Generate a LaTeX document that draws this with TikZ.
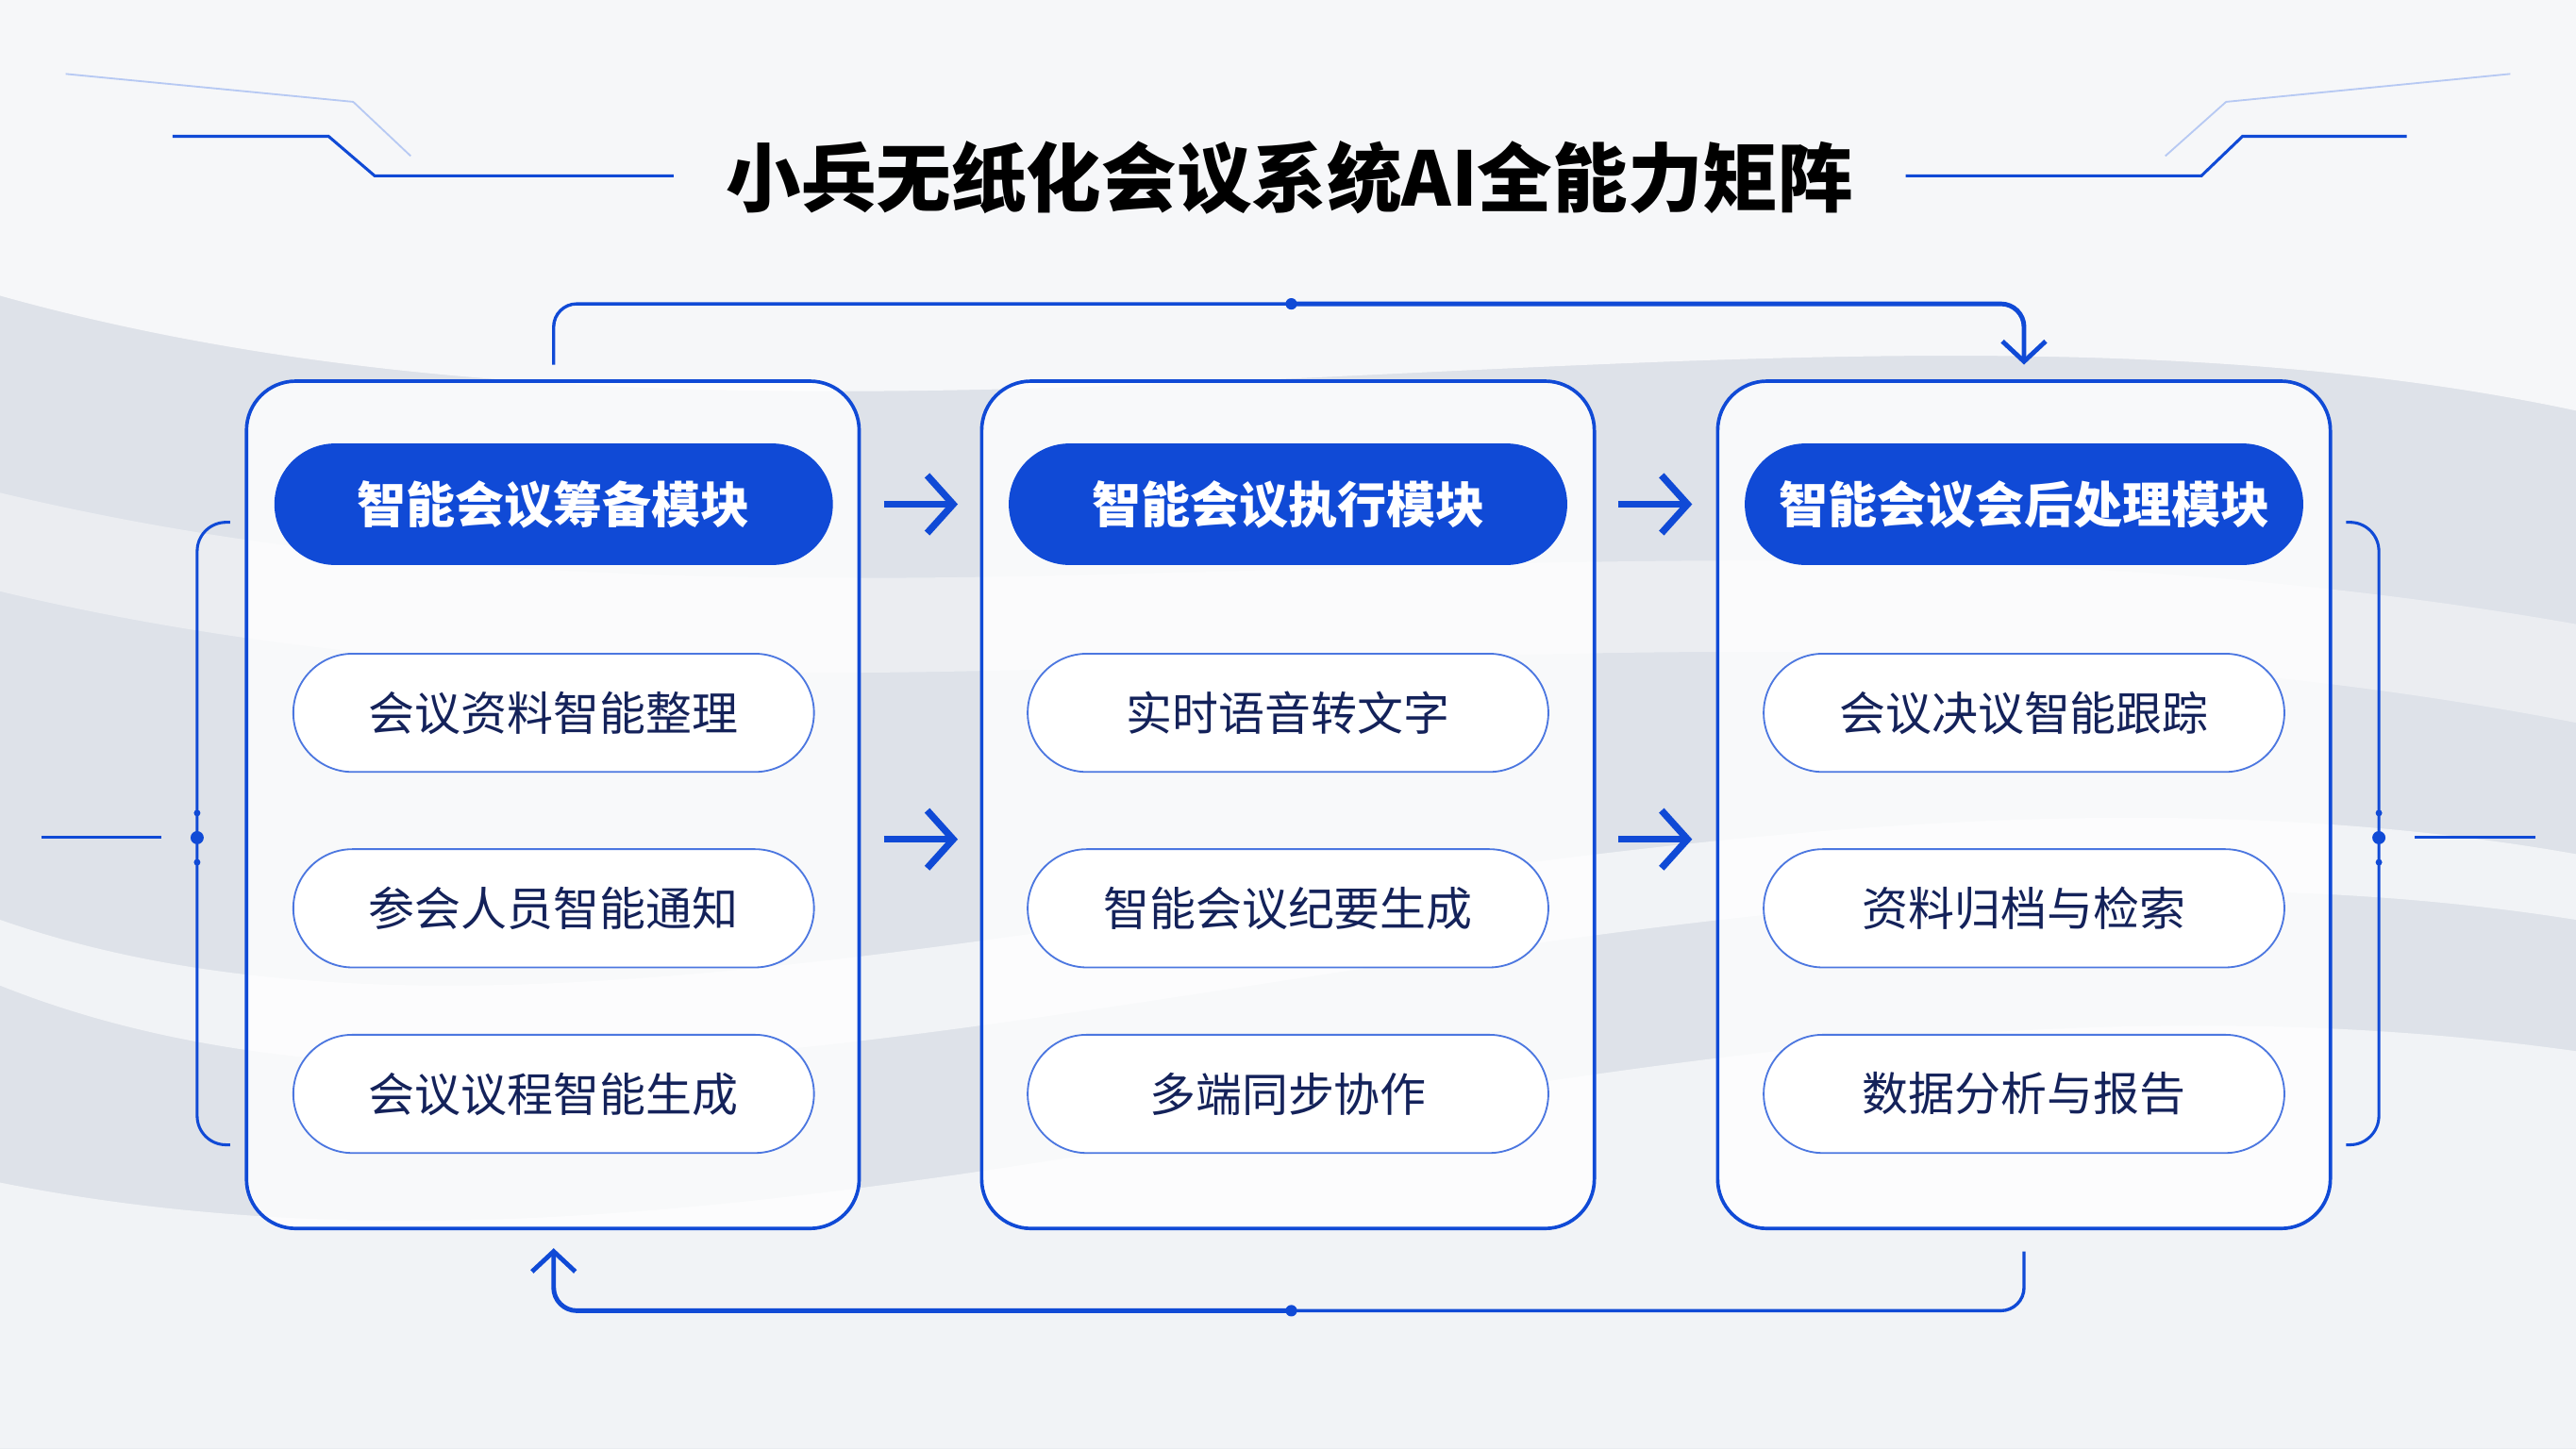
\documentclass[tikz,border=0pt]{standalone}
\usepackage{fontspec}
\setmainfont{Noto Sans CJK SC}
\usetikzlibrary{arrows.meta,positioning}
\definecolor{mainblue}{RGB}{16,74,214}
\definecolor{navy}{RGB}{20,34,90}
\definecolor{bgray}{RGB}{222,226,233}
\tikzset{
  column/.style={draw=mainblue,line width=1.2pt,rounded corners=0.6cm,fill=white,fill opacity=0.8,text opacity=1,minimum width=7.46cm,minimum height=10.32cm},
  header/.style={fill=mainblue,rounded corners=0.74cm,minimum width=6.8cm,minimum height=1.48cm,text=white,font=\bfseries\fontsize{17}{17}\selectfont},
  item/.style={draw=mainblue!75,line width=0.6pt,fill=white,rounded corners=0.72cm,minimum width=6.34cm,minimum height=1.44cm,text=navy,font=\fontsize{16}{16}\selectfont},
  flow/.style={mainblue,line width=2.4pt,-{Straight Barb[length=9pt,width=20pt]}},
  link/.style={mainblue,line width=1.1pt},
  deco/.style={mainblue,line width=1pt},
}
\begin{document}
\begin{tikzpicture}[x=0.02cm,y=-0.02cm]
\useasboundingbox (0,0) rectangle (1568,882);
% background
\fill[bgray] (0,0) rectangle (1568,882);
\fill[white,opacity=0.75] (0,0) -- (1568,0) -- (1568,250) .. controls (1100,150) and (500,320) .. (0,180) -- cycle;
\fill[white,opacity=0.6] (0,882) -- (0,720) .. controls (500,820) and (1000,560) .. (1568,640) -- (1568,882) -- cycle;
\fill[white,opacity=0.6] (0,560) .. controls (400,700) and (1000,420) .. (1568,520) -- (1568,560) .. controls (1000,470) and (400,760) .. (0,600) -- cycle;
\fill[white,opacity=0.4] (0,300) .. controls (500,420) and (1000,280) .. (1568,380) -- (1568,440) .. controls (1000,330) and (500,480) .. (0,360) -- cycle;
% title
\node[font=\bfseries\fontsize{26}{26}\selectfont,text=black] (title) at (785,108) {小兵无纸化会议系统AI全能力矩阵};
\draw[deco] (105,83) -- (200,83) -- (228,107) -- (410,107);
\draw[deco] (1160,107) -- (1340,107) -- (1365,83) -- (1465,83);
\draw[mainblue!30,line width=0.6pt] (40,45) -- (215,62) -- (250,95);
\draw[mainblue!30,line width=0.6pt] (1528,45) -- (1355,62) -- (1318,95);
% columns
\node[column] (prep) at (336.5,490) {};
\node[column] (exec) at (784,490) {};
\node[column] (post) at (1232,490) {};
% headers
\node[header] (prepH) at (337,307) {智能会议筹备模块};
\node[header] (execH) at (784,307) {智能会议执行模块};
\node[header] (postH) at (1232,307) {智能会议会后处理模块};
% items
\node[item] (p1) at (337,434) {会议资料智能整理};
\node[item] (p2) at (337,553) {参会人员智能通知};
\node[item] (p3) at (337,666) {会议议程智能生成};
\node[item] (e1) at (784,434) {实时语音转文字};
\node[item] (e2) at (784,553) {智能会议纪要生成};
\node[item] (e3) at (784,666) {多端同步协作};
\node[item] (q1) at (1232,434) {会议决议智能跟踪};
\node[item] (q2) at (1232,553) {资料归档与检索};
\node[item] (q3) at (1232,666) {数据分析与报告};
% arrows between columns
\draw[flow] (538,307) -- (583,307);
\draw[flow] (985,307) -- (1030,307);
\draw[flow] (538,511) -- (583,511);
\draw[flow] (985,511) -- (1030,511);
% loop connectors
\coordinate (topMid) at (786,185);
\coordinate (botMid) at (786,798);
\draw[link,rounded corners=8pt] (337,222) -- (337,185) -- (topMid);
\draw[link,line width=1.6pt,rounded corners=8pt,-{Straight Barb[length=7pt,width=15pt]}] (topMid) -- (1232,185) -- (1232,222);
\draw[link,rounded corners=8pt] (1232,762) -- (1232,798) -- (botMid);
\draw[link,line width=1.6pt,rounded corners=8pt,-{Straight Barb[length=7pt,width=15pt]}] (botMid) -- (337,798) -- (337,760);
\fill[mainblue] (topMid) circle (3.5);
\fill[mainblue] (botMid) circle (3.5);
% side brackets
\draw[deco,rounded corners=10pt] (140,318) -- (120,318) -- (120,697) -- (140,697);
\draw[deco,rounded corners=10pt] (1428,318) -- (1448,318) -- (1448,697) -- (1428,697);
\draw[deco] (25,510) -- (98,510);
\draw[deco] (1470,510) -- (1543,510);
\foreach \yy/\r in {495/2,510/4,525/2} {
  \fill[mainblue] (120,\yy) circle (\r);
  \fill[mainblue] (1448,\yy) circle (\r);
}
\end{tikzpicture}
\end{document}
